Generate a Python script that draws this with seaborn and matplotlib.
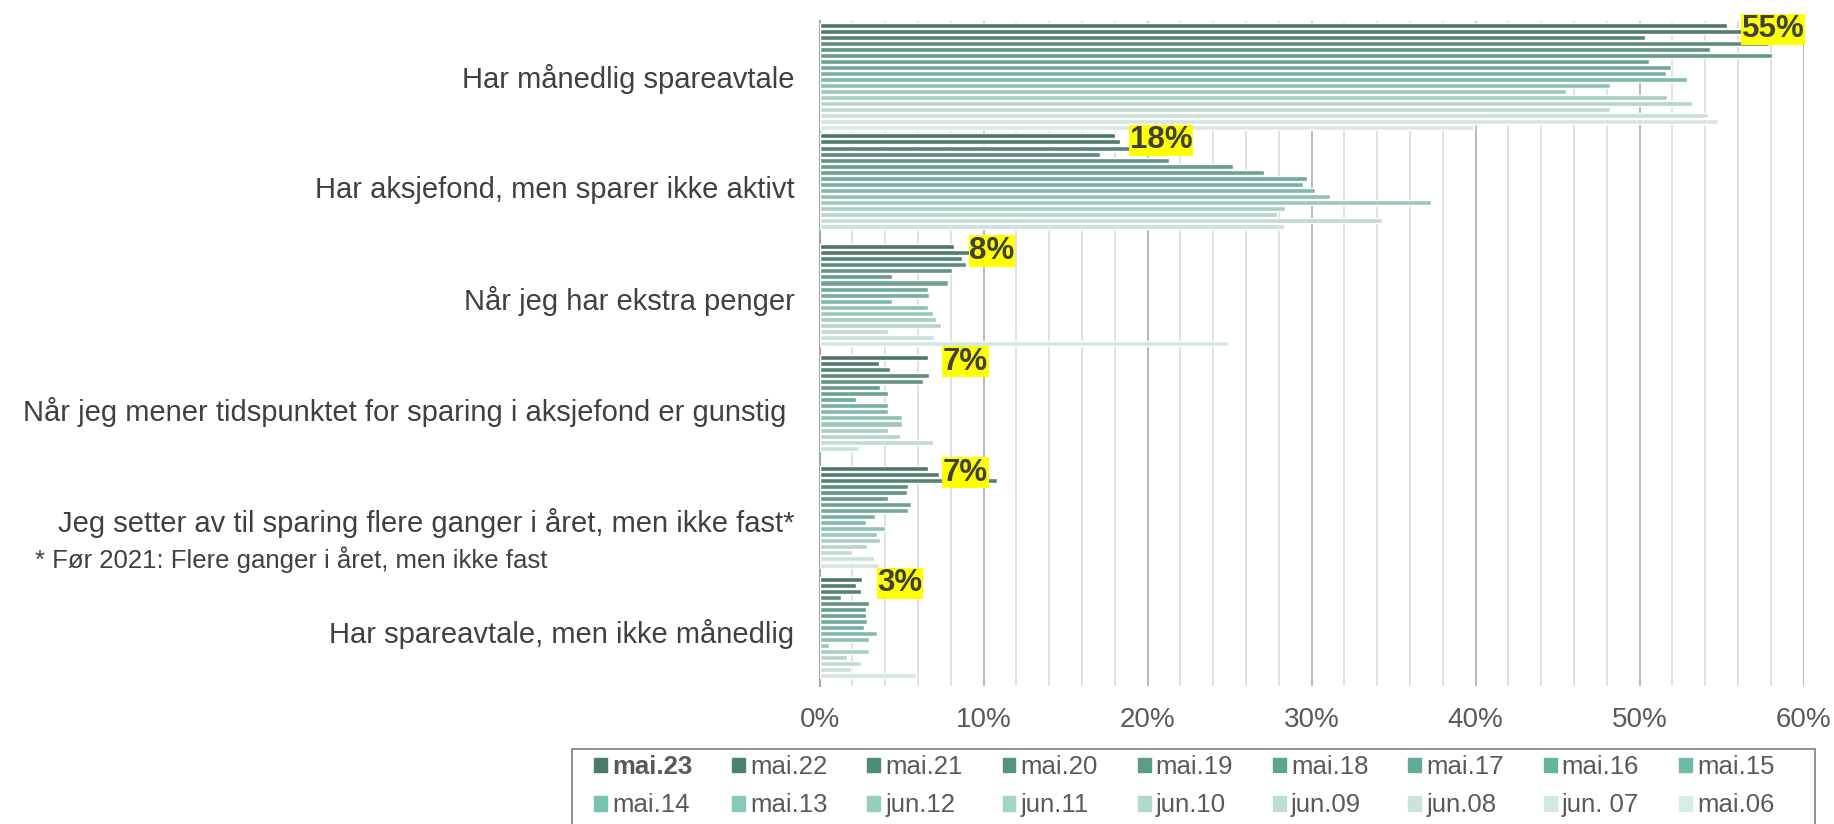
import matplotlib
matplotlib.use("Agg")
import matplotlib.pyplot as plt
from matplotlib.patches import Rectangle
import pandas as pd
import seaborn as sns

sns.set_style("white")
plt.rcParams["font.family"] = ["Liberation Sans", "DejaVu Sans"]

# categories (top to bottom) and survey rounds (legend order)
categories = [
    "Har månedlig spareavtale",
    "Har aksjefond, men sparer ikke aktivt",
    "Når jeg har ekstra penger",
    "Når jeg mener tidspunktet for sparing i aksjefond er gunstig ",
    "Jeg setter av til sparing flere ganger i året, men ikke fast*",
    "Har spareavtale, men ikke månedlig",
]
series = ["mai.23", "mai.22", "mai.21", "mai.20", "mai.19", "mai.18", "mai.17",
          "mai.16", "mai.15", "mai.14", "mai.13", "jun.12", "jun.11", "jun.10",
          "jun.09", "jun.08", "jun. 07", "mai.06"]

# share (%) per survey round, None = not asked that year
manedlig = [55.3, 57.0, 50.3, 57.9, 54.3, 58.1, 50.6, 51.9, 51.6, 52.9, 48.2,
            45.5, 51.7, 53.2, 48.2, 54.2, 54.8, 39.9]
aksjefond = [18.0, 18.3, 19.5, 17.1, 21.3, 25.2, 27.1, 29.7, 29.5, 30.2, 31.1,
             37.3, 28.4, 27.9, 34.3, 28.3, None, None]
ekstra = [8.2, 9.3, 8.7, 8.9, 8.1, 4.4, 7.8, 6.6, 6.7, 4.4, 6.6, 6.9, 7.1,
          7.4, 4.2, 7.0, 24.9, None]
tidspunkt = [6.6, 3.6, 4.3, 6.7, 6.3, 3.7, 4.2, 2.2, 4.2, 4.2, 5.0, 5.0, 4.2,
             4.9, 6.9, 2.4, None, None]
flere_ganger = [6.6, 7.3, 10.8, 5.4, 5.3, 4.2, 5.6, 5.4, 3.4, 2.8, 4.0, 3.5,
                3.7, 2.9, 2.0, 3.3, 3.6, None]
ikke_manedlig = [2.6, 2.2, 2.5, 1.3, 3.0, 2.8, 2.8, 2.9, 2.7, 3.5, 3.0, 0.6,
                 3.0, 1.7, 2.5, 1.9, 5.9, None]
values = [manedlig, aksjefond, ekstra, tidspunkt, flere_ganger, ikke_manedlig]

x_ticks = [0, 10, 20, 30, 40, 50, 60]
footnote = "* Før 2021: Flere ganger i året, men ikke fast"

palette = ["#497b6e", "#4c8272", "#4f8a7a", "#569383", "#5a9b89", "#5fa491",
           "#63ab98", "#68b3a0", "#6dbaa7", "#78c3af", "#87c9b8", "#95cfc0",
           "#a3d4c7", "#b1d9ce", "#bedfd6", "#c8e4dc", "#d2e9e2", "#d6ece6"]

rows = []
for cat, vals in zip(categories, values):
    for s, v in zip(series, vals):
        if v is not None:
            rows.append({"kategori": cat, "serie": s, "andel": v})
df = pd.DataFrame(rows)

W, H = 1834, 824
fig = plt.figure(figsize=(W / 100, H / 100), dpi=100)
ax = fig.add_axes([819.6 / W, 1 - 686 / H, 984 / W, 665 / H])

sns.barplot(data=df, x="andel", y="kategori", hue="serie", order=categories,
            hue_order=series, palette=palette, orient="h", width=0.98, gap=0.17,
            errorbar=None, legend=False, ax=ax, zorder=3)

ax.set_xlim(0, 60)
ax.set_ylim(5.5, -0.5)
ax.set_xticks(x_ticks)
ax.set_xticklabels([f"{t}%" for t in x_ticks])
ax.set_xticks(range(0, 61, 2), minor=True)
ax.grid(which="minor", axis="x", color="#d9d9d9", lw=1.1, zorder=0)
ax.grid(which="major", axis="x", color="#a6a6a6", lw=1.1, zorder=0)
ax.set_axisbelow(True)
ax.set_xlabel("")
ax.set_ylabel("")
for side in ["top", "right", "bottom"]:
    ax.spines[side].set_visible(False)
ax.spines["left"].set_color("#a6a6a6")
ax.spines["left"].set_linewidth(1.5)
ax.tick_params(axis="x", length=0, pad=15, labelsize=20, labelcolor="#595959")
ax.tick_params(axis="y", length=0, pad=18, labelsize=21, labelcolor="#404040")

# yellow value labels for the latest round
for bar in ax.containers[0]:
    w = bar.get_width()
    yc = bar.get_y() + bar.get_height() / 2
    ax.annotate(f"{w:.0f}%", xy=(w, yc), xytext=(11, -3),
                textcoords="offset points", ha="left", va="center",
                fontsize=22.5, fontweight="bold", color="#404040", zorder=6,
                bbox=dict(boxstyle="square,pad=0.02", fc="#ffff00", ec="none"))

fig.text(35 / W, 1 - 560 / H, footnote, fontsize=18.5, color="#404040",
         ha="left", va="center")

# legend, filled row by row
handles = [Rectangle((0, 0), 1, 1, color=c) for c in palette]
order = []
for i in range(9):
    order += [i, i + 9]
leg = fig.legend([handles[i] for i in order], [series[i] for i in order],
                 ncol=9, loc="upper left", bbox_to_anchor=(594 / W, 1 - 755 / H),
                 frameon=False, fontsize=18.5, handlelength=0.5, handleheight=0.5,
                 handletextpad=0.2, columnspacing=1.55, labelspacing=0.56,
                 borderpad=0, borderaxespad=0)
for t in leg.get_texts():
    t.set_color("#595959")
    if t.get_text() == "mai.23":
        t.set_fontweight("bold")
fig.add_artist(Rectangle((572 / W, -0.05), (1815 - 572) / W, 0.05 + 1 - 749 / H,
                         transform=fig.transFigure, fill=False,
                         ec="#7f7f7f", lw=1.2))

fig.savefig("out.png", dpi=100)
